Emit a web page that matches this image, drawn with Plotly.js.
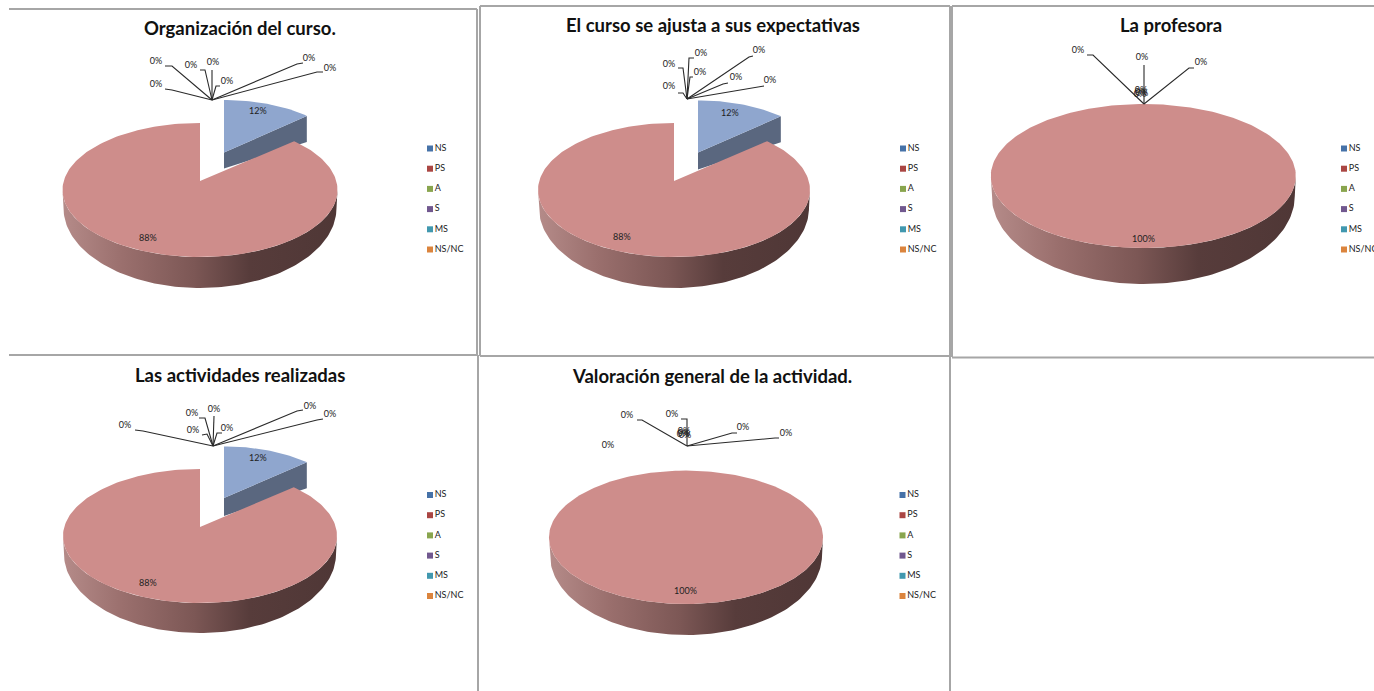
<!DOCTYPE html>
<html><head><meta charset="utf-8">
<script src="https://cdn.plot.ly/plotly-3.0.1.min.js"></script>
<style>html,body{margin:0;padding:0;background:#fff}#chart{width:1374px;height:691px}</style>
</head><body><div id="chart"></div>
<script>
const W = 1374, H = 691;
const categories = ['NS', 'PS', 'A', 'S', 'MS', 'NS/NC'];
const categoryColors = ['#4672A8', '#AA4643', '#89A54E', '#71588F', '#4198AF', '#DB843D'];
const titles = ['Organización del curso.', 'El curso se ajusta a sus expectativas', 'La profesora', 'Las actividades realizadas', 'Valoración general de la actividad.'];
const valuesOrganizacion = [12, 88, 0, 0, 0, 0];
const valuesExpectativas = [12, 88, 0, 0, 0, 0];
const valuesProfesora = [0, 100, 0, 0, 0, 0];
const valuesActividades = [12, 88, 0, 0, 0, 0];
const valuesValoracion = [0, 100, 0, 0, 0, 0];

// [label x, label y, leader start x, y, elbow x, y]
const leadersOrganizacion = [[156,85,165,89,172,90],[156,62,165,66,172,66],[191,66,200,70,205,70],[213,63,212,70,212,70],[227,82,220,86,216,86],[309,59,303,63,297,64],[330,69,323,72,317,72]];
const leadersExpectativas = [[669,65,678,68,683,68],[669,87,678,93,683,93],[701,54,694,58,689,58],[700,73,693,77,690,77],[759,51,753,56,749,57],[736,78,728,83,723,84],[770,81,764,86,758,87]];
const leadersProfesora = [[1078,51,1087,55,1093,55],[1142,58,1144,65,1144,65],[1201,63,1194,68,1189,68]];
const clusterProfesora = [[1141,91],[1141,93],[1140,95],[1142,94]];
const leadersActividades = [[125,426,135,430,143,431],[192,414,199,418,205,418],[193,431,202,435,207,434],[214,410,214,416,214,416],[227,429,222,433,217,433],[310,407,303,410,297,411],[330,415,323,419,317,420]];
const leadersValoracion = [[627,416,637,420,642,420],[672,415,681,419,687,419],[743,428,737,433,732,433],[786,434,779,438,775,438]];
const clusterValoracion = [[684,432],[684,434],[685,436],[683,435],[608,446]];

const panels = [
 {values: valuesOrganizacion, leaders: leadersOrganizacion, cluster: [], root:[212,100], box:[0,478,0,355], title:[240,29], legend:[430,148],
  main:{cx:200,cy:190,rx:137.5,ry:67,apexDy:-9,wallDy:18,wallRy:80,wallDx:1,label:[148,237]},
  ex:{cx:224,cy:158.6,rx:121,ry:58.6,apexDy:-6,tipDepth:26,apexDepth:16,label:[258,110]}},
 {values: valuesExpectativas, leaders: leadersExpectativas, cluster: [], root:[687,99], box:[480,950,0,356], title:[713,26], legend:[903,148],
  main:{cx:674,cy:190,rx:136,ry:67,apexDy:-9,wallDy:18,wallRy:80,wallDx:1,label:[622,236]},
  ex:{cx:698,cy:159,rx:121,ry:58.6,apexDy:-6.5,tipDepth:26,apexDepth:17,label:[730,112]}},
 {values: valuesProfesora, leaders: leadersProfesora, cluster: clusterProfesora, root:[1144,104], box:[952,1374,0,357], title:[1171,26], legend:[1344,148],
  main:{cx:1143.3,cy:176,rx:152.5,ry:72,apexDy:0,wallDy:20,wallRy:88,wallDx:1,label:[1143,238]}},
 {values: valuesActividades, leaders: leadersActividades, cluster: [], root:[213,446], box:[0,478,357,691], title:[240,376], legend:[430,494.5],
  main:{cx:200,cy:536,rx:137,ry:67,apexDy:-9,wallDy:18,wallRy:79,wallDx:1,label:[148,582]},
  ex:{cx:224,cy:505,rx:121,ry:58.6,apexDy:-7,tipDepth:26,apexDepth:18,label:[258,458]}},
 {values: valuesValoracion, leaders: leadersValoracion, cluster: clusterValoracion, root:[687,446], box:[480,950,357,691], title:[712,377], legend:[902.5,494.5],
  main:{cx:686,cy:537.3,rx:137,ry:66.7,apexDy:0,wallDy:18,wallRy:79.7,wallDx:1,label:[685,590]}}
];

const TOP = '#CE8D8B', EX_TOP = '#8FA6CE', EX_WALL = '#5A677F';
const WALL_SCALE = [[0,'#B58B89'],[0.22,'#9A6F6D'],[0.48,'#7C5755'],[0.68,'#573C3B'],[1,'#4F3736']];
const LABEL_FONT = {family:'Lato, Carlito, sans-serif', size:9, color:'#222'};
const traces = [], annotations = [], shapes = [], layout = {};

function arc(g, a0, a1, dy, ry, dx) {
  const xs = [], ys = [], n = Math.max(2, Math.round(Math.abs(a1 - a0) / 1.5));
  for (let i = 0; i <= n; i++) {
    const t = (a0 + (a1 - a0) * i / n) * Math.PI / 180;
    xs.push(g.cx + (g.rx - (dx || 0)) * Math.sin(t));
    ys.push(g.cy + (dy || 0) - (ry === undefined ? g.ry : ry) * Math.cos(t));
  }
  return [xs, ys];
}
function poly(p, x, y, extra) {
  traces.push(Object.assign({type:'scatter', mode:'lines', x, y, fill:'toself', line:{width:0}, hoverinfo:'skip', showlegend:false, cliponaxis:false, xaxis:p.xa, yaxis:p.ya}, extra));
}

panels.forEach((p, k) => {
  const n = k === 0 ? '' : String(k + 1);
  p.xa = 'x' + n; p.ya = 'y' + n;
  const [x0, x1, y0, y1] = p.box;
  layout['xaxis' + n] = {domain:[x0 / W, x1 / W], range:[x0, x1], visible:false, fixedrange:true, anchor:p.ya};
  layout['yaxis' + n] = {domain:[1 - y1 / H, 1 - y0 / H], range:[y1, y0], visible:false, fixedrange:true, anchor:p.xa};

  const total = p.values.reduce((a, b) => a + b, 0);
  let cum = 0;
  const spans = p.values.map(v => { const s = [cum / total * 360, (cum + v) / total * 360]; cum += v; return s; });

  // exploded slice (first category) is behind the large slice
  p.values.forEach((v, i) => {
    if (v <= 0 || v >= total || !p.ex || v > total / 2) return;
    const g = p.ex, [a0, a1] = spans[i], [ax, ay] = arc(g, a0, a1);
    const apexY = g.cy + g.apexDy, tx = ax[ax.length - 1], ty = ay[ay.length - 1];
    poly(p, [g.cx, tx, tx, g.cx, g.cx], [apexY, ty, ty + g.tipDepth, apexY + g.apexDepth, apexY], {fillcolor:EX_WALL});
    poly(p, [g.cx, ...ax, g.cx], [apexY, ...ay, apexY], {fillcolor:EX_TOP});
    annotations.push({xref:p.xa, yref:p.ya, x:g.label[0], y:g.label[1], text:v + '%', showarrow:false, font:LABEL_FONT});
  });
  // large slice with a gradient side wall
  p.values.forEach((v, i) => {
    if (v <= total / 2) return;
    const g = p.main, [a0, a1] = spans[i];
    const [tx, ty] = arc(g, 90, 270);
    const [bx, by] = arc(g, 270, 90, g.wallDy, g.wallRy, g.wallDx);
    poly(p, [...tx, ...bx, tx[0]], [...ty, ...by, ty[0]], {fillcolor:'#7C5755', fillgradient:{type:'horizontal', colorscale:WALL_SCALE}});
    const [ax, ay] = arc(g, a0, a1);
    if (v >= total) poly(p, ax, ay, {fillcolor:TOP});
    else poly(p, [g.cx, ...ax, g.cx], [g.cy + g.apexDy, ...ay, g.cy + g.apexDy], {fillcolor:TOP});
    annotations.push({xref:p.xa, yref:p.ya, x:g.label[0], y:g.label[1], text:v + '%', showarrow:false, font:LABEL_FONT});
  });

  // leader lines for the empty categories
  const lx = [], ly = [];
  p.leaders.forEach(l => { lx.push(l[2], l[4], p.root[0], null); ly.push(l[3], l[5], p.root[1], null); });
  traces.push({type:'scatter', mode:'lines', x:lx, y:ly, connectgaps:false, line:{color:'#2a2a2a', width:1.1}, hoverinfo:'skip', showlegend:false, cliponaxis:false, xaxis:p.xa, yaxis:p.ya});
  const zx = p.leaders.map(l => l[0]).concat(p.cluster.map(c => c[0]));
  const zy = p.leaders.map(l => l[1]).concat(p.cluster.map(c => c[1]));
  traces.push({type:'scatter', mode:'text', x:zx, y:zy, text:zx.map(() => '0%'), textposition:'middle center', textfont:LABEL_FONT, hoverinfo:'skip', showlegend:false, cliponaxis:false, xaxis:p.xa, yaxis:p.ya});

  // key
  traces.push({type:'scatter', mode:'markers+text', x:categories.map(() => p.legend[0]), y:categories.map((c, i) => p.legend[1] + 0.5 + i * 20.2),
    text:categories, textposition:'middle right', textfont:LABEL_FONT,
    marker:{symbol:'square', size:6, color:categoryColors}, hoverinfo:'skip', showlegend:false, cliponaxis:false, xaxis:p.xa, yaxis:p.ya});

  annotations.push({xref:p.xa, yref:p.ya, x:p.title[0], y:p.title[1] - 1, text:'<b>' + titles[k] + '</b>', showarrow:false,
    font:{family:'Lato, Carlito, sans-serif', size:18.5, color:'#111'}});
});

// frames around the pasted charts
const frames = [[9,9,477,9],[477,9,477,355],[9,355,477,355],[480,6,950,6],[480,6,480,356],[950,6,950,691],[480,356,950,356],
  [952,6,1374,6],[952,6,952,357],[952,357.5,1374,357.5],[478,355,478,691]];
frames.forEach(f => shapes.push({type:'line', xref:'paper', yref:'paper', x0:f[0] / W, x1:f[2] / W, y0:1 - f[1] / H, y1:1 - f[3] / H, line:{color:'#A6A6A6', width:2}}));

Object.assign(layout, {width:W, height:H, margin:{l:0, r:0, t:0, b:0}, paper_bgcolor:'#fff', plot_bgcolor:'rgba(0,0,0,0)', hovermode:false, showlegend:false, annotations, shapes});
Plotly.newPlot('chart', traces, layout, {displayModeBar:false, staticPlot:true});
</script></body></html>
